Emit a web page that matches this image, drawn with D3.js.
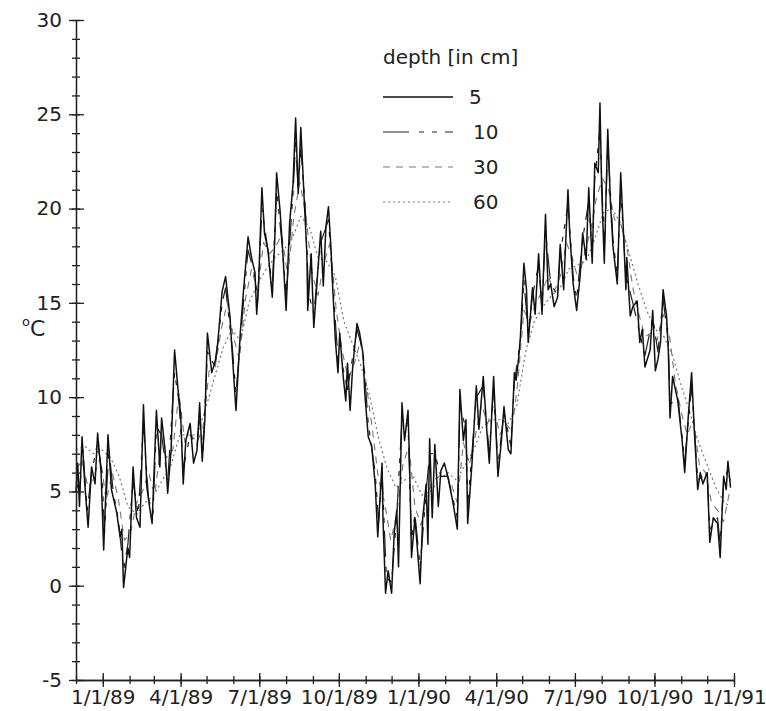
<!DOCTYPE html>
<html>
<head>
<meta charset="utf-8">
<script src="https://cdn.jsdelivr.net/npm/d3@7"></script>
<style>
  body { margin: 0; background: #fff; }
  svg text { font-family: "DejaVu Sans", sans-serif; fill: #222; }
</style>
</head>
<body>
<div id="vis"></div>
<script>
// soil temperature
const depth5 = [
  ['1988-12-01', 5.0], ['1988-12-03', 6.5], ['1988-12-05', 4.2], ['1988-12-08', 7.9], ['1988-12-11', 5.5],
  ['1988-12-15', 3.1], ['1988-12-19', 6.3], ['1988-12-23', 5.4], ['1988-12-26', 8.1], ['1988-12-30', 6.0],
  ['1989-01-02', 1.9], ['1989-01-07', 8.0], ['1989-01-11', 5.1], ['1989-01-17', 3.9], ['1989-01-21', 2.6],
  ['1989-01-23', 3.0], ['1989-01-25', -0.1], ['1989-01-28', 1.2], ['1989-01-30', 2.0], ['1989-02-01', 1.5],
  ['1989-02-05', 6.3], ['1989-02-09', 3.6], ['1989-02-13', 3.1], ['1989-02-17', 9.6], ['1989-02-21', 5.2],
  ['1989-02-24', 4.2], ['1989-02-27', 3.3], ['1989-03-04', 9.3], ['1989-03-08', 6.3], ['1989-03-10', 8.9],
  ['1989-03-14', 7.2], ['1989-03-17', 4.9], ['1989-03-21', 7.2], ['1989-03-25', 12.5], ['1989-03-29', 10.4],
  ['1989-04-01', 9.1], ['1989-04-04', 5.4], ['1989-04-07', 7.7], ['1989-04-12', 8.6], ['1989-04-16', 6.5],
  ['1989-04-20', 7.2], ['1989-04-23', 9.7], ['1989-04-26', 6.6], ['1989-04-29', 8.8], ['1989-05-02', 13.4],
  ['1989-05-07', 11.3], ['1989-05-11', 11.9], ['1989-05-14', 12.9], ['1989-05-19', 15.6], ['1989-05-23', 16.4],
  ['1989-05-28', 14.3], ['1989-05-31', 12.1], ['1989-06-04', 9.3], ['1989-06-09', 13.4], ['1989-06-13', 15.8],
  ['1989-06-18', 18.5], ['1989-06-22', 17.4], ['1989-06-26', 16.6], ['1989-06-28', 14.4], ['1989-06-30', 15.8],
  ['1989-07-04', 21.1], ['1989-07-07', 18.7], ['1989-07-11', 17.8], ['1989-07-16', 15.3], ['1989-07-19', 18.5],
  ['1989-07-21', 21.9], ['1989-07-25', 19.9], ['1989-07-28', 17.8], ['1989-08-01', 14.6], ['1989-08-05', 19.2],
  ['1989-08-09', 21.3], ['1989-08-12', 24.8], ['1989-08-15', 20.8], ['1989-08-18', 24.3], ['1989-08-22', 20.4],
  ['1989-08-25', 17.6], ['1989-08-26', 14.6], ['1989-08-30', 17.6], ['1989-09-02', 13.7], ['1989-09-07', 16.9],
  ['1989-09-10', 18.8], ['1989-09-13', 15.9], ['1989-09-16', 19.0], ['1989-09-19', 20.1], ['1989-09-22', 17.8],
  ['1989-09-24', 15.7], ['1989-09-27', 13.0], ['1989-09-30', 11.3], ['1989-10-02', 13.4], ['1989-10-06', 11.1],
  ['1989-10-09', 9.8], ['1989-10-11', 11.8], ['1989-10-14', 9.3], ['1989-10-17', 11.6], ['1989-10-22', 13.9],
  ['1989-10-25', 13.4], ['1989-10-29', 12.3], ['1989-10-31', 10.2], ['1989-11-04', 7.9], ['1989-11-08', 7.4],
  ['1989-11-12', 5.4], ['1989-11-15', 2.6], ['1989-11-20', 6.5], ['1989-11-21', 3.6], ['1989-11-24', -0.4],
  ['1989-11-27', 0.8], ['1989-12-01', -0.4], ['1989-12-04', 2.8], ['1989-12-07', 4.0], ['1989-12-09', 1.0],
  ['1989-12-13', 9.7], ['1989-12-16', 7.7], ['1989-12-20', 9.3], ['1989-12-22', 6.1], ['1989-12-24', 1.5],
  ['1989-12-28', 3.6], ['1990-01-03', 0.1], ['1990-01-06', 3.6], ['1990-01-10', 5.4], ['1990-01-12', 2.2],
  ['1990-01-14', 7.8], ['1990-01-17', 3.6], ['1990-01-20', 7.5], ['1990-01-24', 4.2], ['1990-01-27', 6.1],
  ['1990-01-31', 6.5], ['1990-02-04', 5.8], ['1990-02-10', 4.4], ['1990-02-15', 3.0], ['1990-02-18', 10.4],
  ['1990-02-22', 7.7], ['1990-02-25', 8.8], ['1990-02-27', 3.3], ['1990-03-04', 6.5], ['1990-03-09', 10.6],
  ['1990-03-12', 8.3], ['1990-03-17', 11.1], ['1990-03-21', 8.3], ['1990-03-24', 6.5], ['1990-03-29', 11.1],
  ['1990-04-03', 5.8], ['1990-04-07', 7.7], ['1990-04-10', 9.5], ['1990-04-15', 7.2], ['1990-04-18', 7.0],
  ['1990-04-22', 11.3], ['1990-04-24', 10.9], ['1990-04-27', 12.1], ['1990-04-29', 13.2], ['1990-05-03', 17.1],
  ['1990-05-06', 15.7], ['1990-05-08', 12.9], ['1990-05-13', 15.8], ['1990-05-16', 14.4], ['1990-05-20', 17.6],
  ['1990-05-24', 14.4], ['1990-05-28', 19.7], ['1990-05-31', 15.7], ['1990-06-03', 16.0], ['1990-06-07', 14.8],
  ['1990-06-11', 15.3], ['1990-06-14', 18.1], ['1990-06-18', 15.7], ['1990-06-23', 21.0], ['1990-06-25', 18.7],
  ['1990-06-29', 16.0], ['1990-07-03', 14.6], ['1990-07-07', 16.4], ['1990-07-10', 18.7], ['1990-07-14', 17.3],
  ['1990-07-17', 21.1], ['1990-07-21', 17.1], ['1990-07-24', 22.4], ['1990-07-28', 21.9], ['1990-07-30', 25.6],
  ['1990-08-01', 21.0], ['1990-08-04', 17.1], ['1990-08-08', 24.2], ['1990-08-11', 20.4], ['1990-08-14', 18.0],
  ['1990-08-19', 16.0], ['1990-08-23', 21.9], ['1990-08-26', 18.9], ['1990-08-29', 15.7], ['1990-08-30', 17.4],
  ['1990-09-03', 14.3], ['1990-09-06', 14.8], ['1990-09-11', 15.1], ['1990-09-14', 12.9], ['1990-09-17', 13.6],
  ['1990-09-20', 11.6], ['1990-09-26', 12.5], ['1990-09-29', 14.6], ['1990-10-02', 11.4], ['1990-10-05', 12.0],
  ['1990-10-08', 12.9], ['1990-10-11', 15.7], ['1990-10-15', 14.3], ['1990-10-17', 12.5], ['1990-10-19', 8.9],
  ['1990-10-22', 11.1], ['1990-10-28', 9.8], ['1990-11-02', 7.7], ['1990-11-05', 6.0], ['1990-11-09', 8.9],
  ['1990-11-13', 11.3], ['1990-11-16', 8.3], ['1990-11-20', 5.1], ['1990-11-23', 6.0], ['1990-11-26', 5.4],
  ['1990-12-01', 6.0], ['1990-12-04', 2.3], ['1990-12-08', 3.6], ['1990-12-13', 3.3], ['1990-12-16', 1.5],
  ['1990-12-20', 5.8], ['1990-12-23', 5.1], ['1990-12-25', 6.6], ['1990-12-28', 5.2]
];

const depth10 = [
  ['1988-12-01', 5.5], ['1988-12-05', 5.0], ['1988-12-09', 7.2], ['1988-12-14', 4.0], ['1988-12-19', 6.0],
  ['1988-12-26', 7.6], ['1988-12-31', 6.0], ['1989-01-03', 2.8], ['1989-01-08', 7.3], ['1989-01-13', 5.0],
  ['1989-01-19', 3.5], ['1989-01-25', 0.8], ['1989-01-30', 2.2], ['1989-02-05', 5.5], ['1989-02-11', 3.8],
  ['1989-02-17', 8.5], ['1989-02-23', 4.6], ['1989-02-28', 3.8], ['1989-03-04', 8.4], ['1989-03-10', 8.0],
  ['1989-03-17', 5.5], ['1989-03-25', 11.3], ['1989-03-30', 9.8], ['1989-04-04', 6.2], ['1989-04-12', 8.0],
  ['1989-04-20', 7.4], ['1989-04-23', 9.0], ['1989-04-27', 7.2], ['1989-05-02', 12.4], ['1989-05-11', 11.6],
  ['1989-05-19', 15.0], ['1989-05-23', 15.8], ['1989-05-31', 12.5], ['1989-06-04', 10.2], ['1989-06-13', 15.2],
  ['1989-06-18', 17.8], ['1989-06-26', 16.4], ['1989-06-29', 15.0], ['1989-07-04', 20.0], ['1989-07-11', 17.8],
  ['1989-07-16', 15.8], ['1989-07-21', 21.0], ['1989-07-28', 17.8], ['1989-08-01', 15.4], ['1989-08-09', 20.8],
  ['1989-08-12', 23.6], ['1989-08-15', 21.0], ['1989-08-18', 23.2], ['1989-08-23', 20.2], ['1989-08-27', 15.5],
  ['1989-09-02', 14.4], ['1989-09-10', 18.2], ['1989-09-19', 19.4], ['1989-09-24', 16.0], ['1989-09-30', 12.0],
  ['1989-10-06', 11.5], ['1989-10-11', 10.4], ['1989-10-22', 13.6], ['1989-10-29', 12.4], ['1989-11-04', 8.6],
  ['1989-11-12', 6.0], ['1989-11-16', 3.4], ['1989-11-20', 6.0], ['1989-11-25', 0.4], ['1989-12-01', 0.2],
  ['1989-12-07', 3.8], ['1989-12-13', 8.8], ['1989-12-20', 8.6], ['1989-12-24', 2.4], ['1989-12-28', 3.8],
  ['1990-01-03', 1.0], ['1990-01-10', 5.0], ['1990-01-14', 7.0], ['1990-01-20', 7.0], ['1990-01-27', 5.8],
  ['1990-02-04', 5.8], ['1990-02-15', 3.6], ['1990-02-18', 9.4], ['1990-02-25', 8.4], ['1990-02-27', 4.2],
  ['1990-03-09', 10.0], ['1990-03-17', 10.6], ['1990-03-24', 7.0], ['1990-03-29', 10.6], ['1990-04-03', 6.4],
  ['1990-04-10', 9.2], ['1990-04-18', 7.4], ['1990-04-22', 10.8], ['1990-04-29', 13.0], ['1990-05-03', 16.2],
  ['1990-05-08', 13.4], ['1990-05-13', 15.4], ['1990-05-20', 17.0], ['1990-05-24', 14.8], ['1990-05-28', 18.8],
  ['1990-06-03', 16.0], ['1990-06-11', 15.4], ['1990-06-14', 17.6], ['1990-06-23', 20.2], ['1990-06-29', 16.4],
  ['1990-07-03', 15.2], ['1990-07-10', 18.4], ['1990-07-17', 20.4], ['1990-07-21', 17.6], ['1990-07-24', 21.6],
  ['1990-07-30', 24.2], ['1990-08-04', 17.8], ['1990-08-08', 23.4], ['1990-08-14', 18.4], ['1990-08-19', 16.4],
  ['1990-08-23', 21.0], ['1990-08-29', 16.4], ['1990-09-06', 15.0], ['1990-09-14', 13.4], ['1990-09-20', 12.2],
  ['1990-09-29', 14.2], ['1990-10-05', 12.4], ['1990-10-11', 15.2], ['1990-10-17', 13.0], ['1990-10-19', 9.6],
  ['1990-10-28', 10.0], ['1990-11-05', 6.6], ['1990-11-13', 10.6], ['1990-11-20', 5.6], ['1990-11-26', 5.8],
  ['1990-12-01', 5.8], ['1990-12-04', 3.0], ['1990-12-13', 3.6], ['1990-12-16', 2.2], ['1990-12-20', 5.4],
  ['1990-12-25', 6.2], ['1990-12-28', 5.4]
];

const depth30 = [
  ['1988-12-01', 6.2], ['1988-12-08', 6.6], ['1988-12-15', 5.2], ['1988-12-22', 5.8], ['1988-12-29', 6.8],
  ['1989-01-05', 4.5], ['1989-01-12', 6.0], ['1989-01-19', 4.6], ['1989-01-26', 2.4], ['1989-02-02', 2.8],
  ['1989-02-09', 4.4], ['1989-02-16', 5.0], ['1989-02-23', 6.0], ['1989-03-02', 4.8], ['1989-03-09', 7.4],
  ['1989-03-16', 6.8], ['1989-03-23', 7.2], ['1989-03-30', 10.2], ['1989-04-06', 7.6], ['1989-04-13', 8.0],
  ['1989-04-20', 7.6], ['1989-04-27', 8.4], ['1989-05-04', 11.4], ['1989-05-11', 11.6], ['1989-05-18', 13.6],
  ['1989-05-25', 15.0], ['1989-06-01', 13.2], ['1989-06-08', 12.0], ['1989-06-15', 15.2], ['1989-06-22', 16.8],
  ['1989-06-29', 15.6], ['1989-07-06', 18.2], ['1989-07-13', 17.6], ['1989-07-20', 18.0], ['1989-07-27', 18.6],
  ['1989-08-03', 16.4], ['1989-08-10', 19.6], ['1989-08-17', 21.4], ['1989-08-24', 19.6], ['1989-08-31', 16.6],
  ['1989-09-07', 15.4], ['1989-09-14', 17.2], ['1989-09-21', 18.2], ['1989-09-28', 14.6], ['1989-10-05', 12.4],
  ['1989-10-12', 11.0], ['1989-10-19', 11.8], ['1989-10-26', 13.0], ['1989-11-02', 10.6], ['1989-11-09', 8.2],
  ['1989-11-16', 5.6], ['1989-11-23', 4.4], ['1989-11-30', 2.4], ['1989-12-07', 3.8], ['1989-12-14', 6.4],
  ['1989-12-21', 7.4], ['1989-12-28', 4.2], ['1990-01-04', 3.2], ['1990-01-11', 4.8], ['1990-01-18', 5.6],
  ['1990-01-25', 5.8], ['1990-02-01', 6.0], ['1990-02-08', 5.4], ['1990-02-15', 4.4], ['1990-02-22', 7.6],
  ['1990-03-01', 6.4], ['1990-03-08', 8.0], ['1990-03-15', 9.6], ['1990-03-22', 8.6], ['1990-03-29', 9.6],
  ['1990-04-05', 8.0], ['1990-04-12', 8.6], ['1990-04-19', 8.2], ['1990-04-26', 10.8], ['1990-05-03', 14.6],
  ['1990-05-10', 14.0], ['1990-05-17', 15.0], ['1990-05-24', 15.6], ['1990-05-31', 16.4], ['1990-06-07', 15.6],
  ['1990-06-14', 16.4], ['1990-06-21', 18.2], ['1990-06-28', 17.4], ['1990-07-05', 16.2], ['1990-07-12', 17.6],
  ['1990-07-19', 18.8], ['1990-07-26', 20.6], ['1990-08-02', 21.6], ['1990-08-09', 21.0], ['1990-08-16', 19.4],
  ['1990-08-23', 19.2], ['1990-08-30', 18.0], ['1990-09-06', 15.8], ['1990-09-13', 14.4], ['1990-09-20', 13.2],
  ['1990-09-27', 13.4], ['1990-10-04', 13.0], ['1990-10-11', 14.4], ['1990-10-18', 13.4], ['1990-10-25', 10.8],
  ['1990-11-01', 9.2], ['1990-11-08', 8.0], ['1990-11-15', 8.8], ['1990-11-22', 6.4], ['1990-11-29', 6.0],
  ['1990-12-06', 4.4], ['1990-12-13', 4.0], ['1990-12-20', 3.4], ['1990-12-27', 5.0]
];

const depth60 = [
  ['1988-12-01', 7.2], ['1988-12-11', 7.4], ['1988-12-21', 7.0], ['1988-12-31', 7.2], ['1989-01-10', 6.8],
  ['1989-01-20', 5.8], ['1989-01-30', 4.2], ['1989-02-09', 3.8], ['1989-02-19', 4.4], ['1989-03-01', 4.8],
  ['1989-03-11', 5.6], ['1989-03-21', 6.4], ['1989-03-31', 8.0], ['1989-04-10', 8.0], ['1989-04-20', 8.0],
  ['1989-04-30', 9.4], ['1989-05-10', 11.0], ['1989-05-20', 12.6], ['1989-05-30', 13.6], ['1989-06-09', 13.0],
  ['1989-06-19', 15.0], ['1989-06-29', 16.0], ['1989-07-09', 16.8], ['1989-07-19', 17.4], ['1989-07-29', 17.8],
  ['1989-08-08', 18.4], ['1989-08-18', 19.6], ['1989-08-28', 19.0], ['1989-09-07', 17.4], ['1989-09-17', 17.2],
  ['1989-09-27', 16.4], ['1989-10-07', 14.0], ['1989-10-17', 12.8], ['1989-10-27', 11.6], ['1989-11-06', 10.0],
  ['1989-11-16', 7.8], ['1989-11-26', 6.2], ['1989-12-06', 5.2], ['1989-12-16', 5.6], ['1989-12-26', 5.8],
  ['1990-01-05', 4.8], ['1990-01-15', 5.0], ['1990-01-25', 5.6], ['1990-02-04', 6.0], ['1990-02-14', 5.6],
  ['1990-02-24', 6.4], ['1990-03-06', 7.2], ['1990-03-16', 8.4], ['1990-03-26', 8.8], ['1990-04-05', 8.8],
  ['1990-04-15', 8.6], ['1990-04-25', 9.6], ['1990-05-05', 12.4], ['1990-05-15', 14.0], ['1990-05-25', 14.8],
  ['1990-06-04', 15.4], ['1990-06-14', 15.8], ['1990-06-24', 16.8], ['1990-07-04', 17.0], ['1990-07-14', 17.2],
  ['1990-07-24', 18.4], ['1990-08-03', 19.8], ['1990-08-13', 20.0], ['1990-08-23', 19.2], ['1990-09-02', 17.6],
  ['1990-09-12', 16.0], ['1990-09-22', 14.6], ['1990-10-02', 13.6], ['1990-10-12', 13.2], ['1990-10-22', 12.2],
  ['1990-11-01', 10.6], ['1990-11-11', 9.2], ['1990-11-21', 7.6], ['1990-12-01', 6.4], ['1990-12-11', 5.2],
  ['1990-12-21', 4.4], ['1990-12-28', 4.2]
];

const depthLabels = ['5', '10', '30', '60'];
const yTicks = [-5, 0, 5, 10, 15, 20, 25, 30];

const width = 766;
const height = 711;

const parse = d3.timeParse('%Y-%m-%d');

const series = [
    { label: depthLabels[0], data: depth5, stroke: '#111', width: 1.5, dash: null },
    { label: depthLabels[1], data: depth10, stroke: '#222', width: 1.2, dash: '26,10,5,8,5,8' },
    { label: depthLabels[2], data: depth30, stroke: '#777', width: 1.1, dash: '7,6' },
    { label: depthLabels[3], data: depth60, stroke: '#777', width: 1.2, dash: '2,3' }
];

const svg = d3.select('#vis')
    .append('svg')
    .attr('width', width)
    .attr('height', height);

const x = d3.scaleTime()
    .domain([new Date(1988, 11, 1), new Date(1991, 0, 1)])
    .range([76, 734]);

const y = d3.scaleLinear()
    .domain([-5, 30])
    .range([680, 20]);

const line = d3.line()
    .x(d => x(parse(d[0])))
    .y(d => y(d[1]));

// deepest first so the 5 cm trace sits on top
svg.append('g')
    .selectAll('path')
    .data(series.slice().reverse())
    .join('path')
    .attr('fill', 'none')
    .attr('stroke', d => d.stroke)
    .attr('stroke-width', d => d.width)
    .attr('stroke-dasharray', d => d.dash)
    .attr('stroke-linejoin', 'round')
    .attr('d', d => line(d.data));

// y axis: minor ticks every degree, labelled every 5
const yMinor = svg.append('g')
    .attr('transform', `translate(${x.range()[0]},0)`)
    .call(d3.axisLeft(y).tickValues(d3.range(-5, 31)).tickFormat('').tickSizeOuter(0));
yMinor.selectAll('.tick line').attr('x1', 4).attr('x2', -4);

const yAxis = svg.append('g')
    .attr('transform', `translate(${x.range()[0]},0)`)
    .call(d3.axisLeft(y).tickValues(yTicks).tickFormat(d => String(d)).tickSizeOuter(0));
yAxis.selectAll('.tick line').attr('x1', 8).attr('x2', -7);
yAxis.selectAll('.tick text')
    .attr('x', -14)
    .style('font-size', '20px');

// x axis: monthly ticks, quarters labelled
const fmt = d3.timeFormat('%-m/%-d/%y');
const xAxisMinor = svg.append('g')
    .attr('transform', `translate(0,${y(-5)})`)
    .call(d3.axisBottom(x)
        .tickValues(d3.timeMonth.range(new Date(1988, 11, 1), new Date(1991, 0, 2)))
        .tickFormat('')
        .tickSizeOuter(0));
xAxisMinor.selectAll('.tick line').attr('y1', -4).attr('y2', 4);

const xAxis = svg.append('g')
    .attr('transform', `translate(0,${y(-5)})`)
    .call(d3.axisBottom(x)
        .tickValues(d3.timeMonth.range(new Date(1989, 0, 1), new Date(1991, 0, 2), 3))
        .tickFormat(fmt)
        .tickSizeOuter(0));
xAxis.selectAll('.tick line').attr('y1', -7).attr('y2', 7);
xAxis.selectAll('.tick text')
    .attr('y', 24)
    .attr('dy', 0)
    .style('font-size', '20px');

svg.selectAll('.domain, .tick line')
    .attr('stroke', '#222')
    .attr('stroke-width', 1.3);

// unit label, degree drawn as a raised small "o"
const unit = svg.append('text')
    .attr('x', 22)
    .attr('y', 336);
unit.append('tspan').style('font-size', '13px').attr('dy', -10).text('o');
unit.append('tspan').style('font-size', '22px').attr('dy', 10).text('C');

// legend
const legend = svg.append('g').attr('transform', 'translate(383,0)');

legend.append('text')
    .attr('x', 0)
    .attr('y', 64)
    .style('font-size', '20px')
    .text('depth [in cm]');

const rows = legend.selectAll('.row')
    .data(series)
    .join('g')
    .attr('class', 'row')
    .attr('transform', (d, i) => `translate(0,${97 + i * 35})`);

rows.append('line')
    .attr('x1', 0)
    .attr('x2', 70)
    .attr('stroke', d => d.stroke)
    .attr('stroke-width', d => d.width)
    .attr('stroke-dasharray', d => d.dash);

rows.append('text')
    .attr('x', (d, i) => i === 0 ? 86 : 90)
    .attr('y', 7)
    .style('font-size', '20px')
    .text(d => d.label);
</script>
</body>
</html>
